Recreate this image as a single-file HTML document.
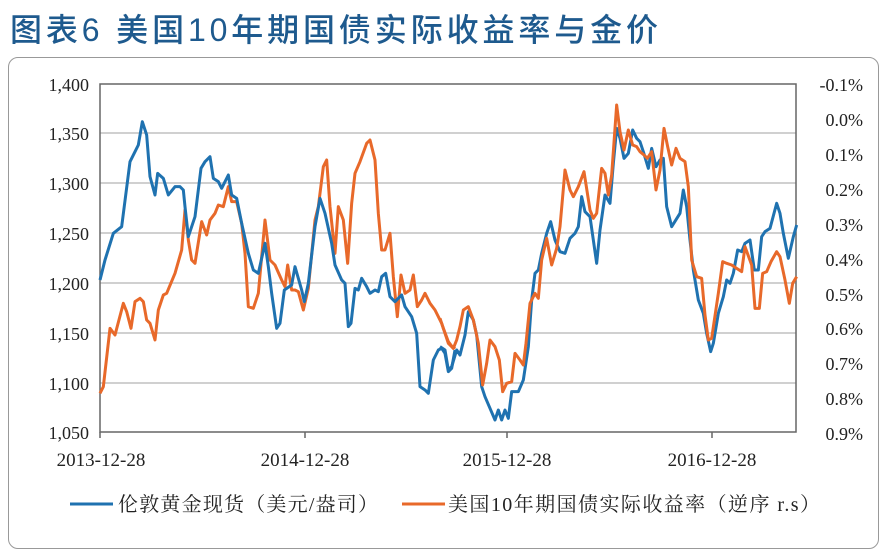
<!DOCTYPE html>
<html><head><meta charset="utf-8"><style>
body{margin:0;background:#fff;width:887px;height:526px;overflow:hidden;position:relative;font-family:"Liberation Serif","Noto Serif CJK SC",serif;}
.box{position:absolute;left:8px;top:57px;width:869px;height:490px;border:1.5px solid #999;border-radius:10px}
</style></head><body>
<div class="box"></div>
<svg width="887" height="526" style="position:absolute;left:0;top:0" font-family="Liberation Serif, Noto Serif CJK SC, serif">
<text x="10" y="41" font-family="Liberation Sans, Noto Sans CJK SC, sans-serif" font-size="32" font-weight="500" fill="#1e5a8e" textLength="648" lengthAdjust="spacing">图表6  美国10年期国债实际收益率与金价</text>
<g stroke="#d0d0d0" stroke-width="2">
<line x1="100" x2="796" y1="133" y2="133"/><line x1="100" x2="796" y1="183" y2="183"/><line x1="100" x2="796" y1="233" y2="233"/><line x1="100" x2="796" y1="283" y2="283"/><line x1="100" x2="796" y1="333" y2="333"/><line x1="100" x2="796" y1="383" y2="383"/>
</g>
<rect x="100" y="84" width="696" height="348" fill="none" stroke="#666" stroke-width="1.5"/>
<g stroke="#666" stroke-width="1.5"><line x1="100" x2="100" y1="432" y2="438"/><line x1="305" x2="305" y1="432" y2="438"/><line x1="507" x2="507" y1="432" y2="438"/><line x1="712" x2="712" y1="432" y2="438"/></g>
<g font-size="18" fill="#222" text-anchor="end">
<text x="89" y="91">1,400</text><text x="89" y="140">1,350</text><text x="89" y="190">1,300</text><text x="89" y="240">1,250</text><text x="89" y="290">1,200</text><text x="89" y="340">1,150</text><text x="89" y="390">1,100</text><text x="89" y="439">1,050</text>
</g>
<g font-size="18" fill="#222" text-anchor="end">
<text x="863" y="91">-0.1%</text><text x="863" y="126">0.0%</text><text x="863" y="161">0.1%</text><text x="863" y="196">0.2%</text><text x="863" y="231">0.3%</text><text x="863" y="266">0.4%</text><text x="863" y="301">0.5%</text><text x="863" y="335">0.6%</text><text x="863" y="370">0.7%</text><text x="863" y="405">0.8%</text><text x="863" y="440">0.9%</text>
</g>
<g font-size="19" fill="#222" text-anchor="middle">
<text x="101" y="466">2013-12-28</text><text x="305" y="466">2014-12-28</text><text x="507" y="466">2015-12-28</text><text x="712" y="466">2016-12-28</text>
</g>
<g fill="none" stroke-width="9" stroke-linejoin="round">
<g transform="translate(95,80) scale(0.33333)">
<polyline stroke="#e8692a" points="15,940 25,920 45,745 60,765 85,670 95,695 108,745 120,665 135,655 145,665 155,720 165,730 180,780 190,690 205,645 215,640 240,580 260,510 270,390 280,480 290,540 300,550 320,425 335,465 345,420 360,400 370,375 385,380 400,320 410,365 425,365 440,430 450,520 460,680 475,685 490,640 510,420 525,540 540,555 560,600 570,620 578,555 590,630 600,630 610,635 625,690 640,625 660,420 670,380 685,260 695,240 705,380 720,520 730,380 745,420 758,550 770,370 780,280 795,245 815,190 825,180 840,240 850,400 860,510 870,510 885,460 895,590 907,710 918,585 930,640 945,630 955,585 967,680 980,660 990,640 1005,670 1020,690 1040,730 1060,790 1075,805 1080,800"/>
<polyline stroke="#1f72b0" points="15,600 30,540 55,460 80,440 105,245 120,215 130,195 142,125 155,165 165,290 180,345 188,280 205,295 220,345 240,320 255,320 265,330 270,380 280,470 300,410 318,265 330,245 345,230 355,295 370,305 380,325 400,285 410,345 425,355 440,430 460,520 475,570 490,580 510,490 520,560 530,640 545,745 555,730 568,630 590,615 600,560 620,630 628,665 640,610 660,440 675,355 690,400 710,490 720,555 740,600 750,610 760,740 768,730 780,625 790,630 800,595 815,620 825,640 840,630 850,635 860,590 872,580 885,650 900,665 920,645 930,680 950,710 965,760 975,920 990,930 1000,940 1015,840 1030,810 1040,805 1050,820 1060,875 1070,865 1080,810"/>
</g>
<g transform="translate(440,80) scale(0.33333)">
<polyline stroke="#1f72b0" points="0,800 15,810 25,870 35,860 50,810 60,825 75,765 85,695 100,720 110,765 125,920 135,950 150,985 165,1020 175,990 185,1020 195,990 205,1015 215,935 235,935 250,900 265,800 275,660 285,580 295,570 305,520 320,460 332,425 345,480 360,515 375,520 390,475 405,460 415,440 425,350 435,395 450,410 470,550 480,450 495,345 510,370 520,250 530,145 540,175 552,235 565,220 578,150 590,175 600,185 610,215 625,265 635,205 648,260 660,240 670,235 680,380 695,440 720,400 730,330 740,380 750,480 760,570 775,660 790,700 800,760 812,815 820,790 835,700 850,650 860,600 870,610 880,580 893,510 905,515 915,490 930,480 943,570 955,570 965,470 975,455 990,445 1010,370 1020,400 1030,460 1045,535 1060,470 1070,435"/>
<polyline stroke="#e8692a" points="0,715 10,745 25,785 40,805 50,780 60,740 70,690 85,680 100,720 115,790 128,915 140,850 150,780 165,800 178,840 188,935 200,910 215,905 225,820 240,840 250,855 258,790 270,670 285,640 295,655 305,540 320,475 335,555 350,505 360,440 375,270 390,330 400,350 415,320 432,275 450,390 460,415 470,400 485,265 495,280 505,345 515,285 530,75 540,155 552,210 565,150 578,195 590,200 600,215 612,225 622,235 635,215 648,330 660,270 672,145 683,200 695,255 708,205 720,235 735,245 745,320 755,540 770,590 785,595 795,705 805,780 815,775 835,640 848,545 860,550 875,555 890,565 905,575 915,500 935,555 945,685 958,685 968,580 980,575 993,545 1010,515 1020,530 1035,600 1048,670 1058,610 1070,590"/>
</g>
</g>
<line x1="70" x2="113" y1="504" y2="504" stroke="#1f72b0" stroke-width="3"/>
<line x1="402" x2="445" y1="504" y2="504" stroke="#e8692a" stroke-width="3"/>
<g font-size="20" fill="#222">
<text x="118" y="511" textLength="260" lengthAdjust="spacing">伦敦黄金现货（美元/盎司）</text>
<text x="448" y="511" textLength="372" lengthAdjust="spacing">美国10年期国债实际收益率（逆序 r.s）</text>
</g>
</svg>
</body></html>
